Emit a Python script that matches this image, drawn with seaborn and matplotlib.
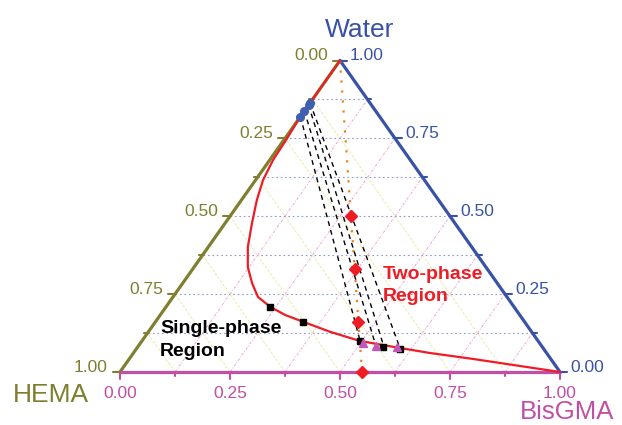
import matplotlib
matplotlib.use("Agg")
import matplotlib.pyplot as plt
import seaborn as sns
import pandas as pd
import numpy as np

# --- data: compositions as (BisGMA, Water) fractions, HEMA = 1 - BisGMA - Water ---
binodal_bis = [0.0, 0.0, 0.005, 0.0075, 0.017, 0.035, 0.061, 0.090, 0.122, 0.157,
               0.193, 0.237, 0.284, 0.336, 0.413, 0.496, 0.598, 0.674, 0.781, 1.0]
binodal_wat = [1.0, 0.82, 0.745, 0.681, 0.616, 0.552, 0.478, 0.401, 0.337, 0.286,
               0.241, 0.209, 0.183, 0.161, 0.129, 0.0995, 0.077, 0.061, 0.042, 0.0]

square_bis = [0.237, 0.336, 0.497, 0.558, 0.600]
square_wat = [0.209, 0.161, 0.098, 0.079, 0.074]

triangle_bis = [0.506, 0.540, 0.590]
triangle_wat = [0.093, 0.0835, 0.079]

# tie lines: water-rich end (blue dots) -> resin-rich end
tie_top_bis = [0.0, 0.0, 0.0, 0.0]
tie_top_wat = [0.82, 0.838, 0.857, 0.864]
tie_bot_bis = [0.497, 0.540, 0.560, 0.600]
tie_bot_wat = [0.098, 0.0835, 0.080, 0.074]

# dilution path (orange dotted) and the red diamonds on it
path_bis = [0.0, 0.55]
path_wat = [1.0, 0.0]
diamond_bis = [0.275, 0.369, 0.462, 0.55]
diamond_wat = [0.50, 0.33, 0.16, 0.0]

tick_values = [0.0, 0.125, 0.25, 0.375, 0.5, 0.625, 0.75, 0.875, 1.0]
tick_labels = {0.0: "0.00", 0.25: "0.25", 0.5: "0.50", 0.75: "0.75", 1.0: "1.00"}

# colours
c_hema = "#7f7f2f"
c_water = "#3a52a6"
c_bis = "#c14fa5"
c_red = "#ee1c24"


def tern(bis, wat):
    bis = np.asarray(bis, dtype=float)
    wat = np.asarray(wat, dtype=float)
    return bis + wat / 2.0, wat


sns.set_theme(style="white")
plt.rcParams["font.family"] = ["Liberation Sans", "DejaVu Sans"]

fig = plt.figure(figsize=(6.22, 4.25), dpi=100)
ax = fig.add_axes([120 / 622, 53 / 425, 440 / 622, 311.5 / 425])
ax.set_xlim(0, 1)
ax.set_ylim(0, 1)
ax.axis("off")

PX = 1 / 440.0
PY = 1 / 311.5

# --- grid lines ---
for v in tick_values[1:-1]:
    # constant water (horizontal)
    gx, gy = tern([0, 1 - v], [v, v])
    ax.plot(gx, gy, color="#8e9ad8", lw=0.8, ls=(0, (1.5, 2.5)), zorder=1)
    # constant HEMA
    gx, gy = tern([1 - v, 0], [0, 1 - v])
    ax.plot(gx, gy, color="#ebeba6", lw=0.7, ls=(0, (3, 1.5)), zorder=1)
    # constant BisGMA
    gx, gy = tern([v, v], [0, 1 - v])
    ax.plot(gx, gy, color="#efaad6", lw=0.7, ls=(0, (3, 1.5, 1, 1.5)), zorder=1)

# --- triangle edges ---
ex, ey = tern([0, 0], [0, 1])
ax.plot(ex, ey, color=c_hema, lw=2.3, solid_capstyle="round", zorder=3, clip_on=False)
ex, ey = tern([0, 1], [1, 0])
ax.plot(ex, ey, color=c_water, lw=2.3, solid_capstyle="round", zorder=3, clip_on=False)
ex, ey = tern([0, 1], [0, 0])
ax.plot(ex, ey, color=c_bis, lw=2.3, solid_capstyle="round", zorder=3, clip_on=False)

# --- ticks and tick labels ---
for v in tick_values:
    major = v in tick_labels
    ln = 7 if major else 4
    # HEMA (left)
    tx, ty = tern(0, 1 - v)
    ax.plot([tx, tx - ln * PX], [ty, ty], color=c_hema, lw=1.5, zorder=3, clip_on=False)
    # Water (right)
    tx, ty = tern(1 - v, v)
    ax.plot([tx, tx + ln * PX], [ty, ty], color=c_water, lw=1.5, zorder=3, clip_on=False)
    # BisGMA (bottom)
    tx, ty = tern(v, 0)
    ax.plot([tx, tx], [ty, ty - ln * PY], color=c_bis, lw=1.5, zorder=3, clip_on=False)
    if major:
        lab = tick_labels[v]
        tx, ty = tern(0, 1 - v)
        ax.annotate(lab, (tx, ty), xytext=(-12, 5), textcoords="offset pixels",
                    ha="right", va="center", fontsize=12.5, color=c_hema)
        tx, ty = tern(1 - v, v)
        ax.annotate(lab, (tx, ty), xytext=(10, 5), textcoords="offset pixels",
                    ha="left", va="center", fontsize=12.5, color=c_water)
        tx, ty = tern(v, 0)
        ax.annotate(lab, (tx, ty), xytext=(0, -21), textcoords="offset pixels",
                    ha="center", va="center", fontsize=12.5, color=c_bis)

# --- axis titles ---
ax.text(0.545, 1.097, "Water", ha="center", va="center", fontsize=19, color=c_water)
ax.text(-0.157, -0.074, "HEMA", ha="center", va="center", fontsize=19, color=c_hema)
ax.text(1.015, -0.151, "BisGMA", ha="center", va="baseline", fontsize=18.5, color=c_bis)

# --- dilution path ---
px_, py_ = tern(path_bis, path_wat)
ax.plot(px_, py_, color="#f0821e", lw=1.6, ls=(0, (1, 3.5)), zorder=4, clip_on=False)

# --- tie lines ---
for i in range(len(tie_top_bis)):
    lx, ly = tern([tie_top_bis[i], tie_bot_bis[i]], [tie_top_wat[i], tie_bot_wat[i]])
    ax.plot(lx, ly, color="black", lw=1.0, ls=(0, (3.5, 3)), zorder=4)

# --- binodal curve ---
bx, by = tern(binodal_bis, binodal_wat)
binodal = pd.DataFrame({"x": bx, "y": by})
sns.lineplot(data=binodal, x="x", y="y", sort=False, estimator=None, errorbar=None,
             color=c_red, lw=1.6, ax=ax, zorder=5, clip_on=False)

# --- markers ---
sx, sy = tern(square_bis, square_wat)
ax.plot(sx, sy, ls="none", marker="s", ms=4.8, color="black", zorder=6)
trx, tr_y = tern(triangle_bis, triangle_wat)
ax.plot(trx, tr_y, ls="none", marker="^", ms=6, color="#c356b8", zorder=6)
ux, uy = tern(tie_top_bis, tie_top_wat)
ax.plot(ux, uy, ls="none", marker="o", ms=5.5, color="#3f5fb0", zorder=6)
dx, dy = tern(diamond_bis, diamond_wat)
ax.plot(dx, dy, ls="none", marker="D", ms=6, color=c_red, zorder=7, clip_on=False)

# --- region labels ---
ax.text(0.091, 0.167, "Single-phase\nRegion", ha="left", va="top", fontsize=14,
        fontweight="bold", color="black", linespacing=1.5, zorder=8)
ax.text(0.598, 0.340, "Two-phase\nRegion", ha="left", va="top", fontsize=14,
        fontweight="bold", color=c_red, linespacing=1.35, zorder=8)

fig.savefig("out.png", dpi=100)
